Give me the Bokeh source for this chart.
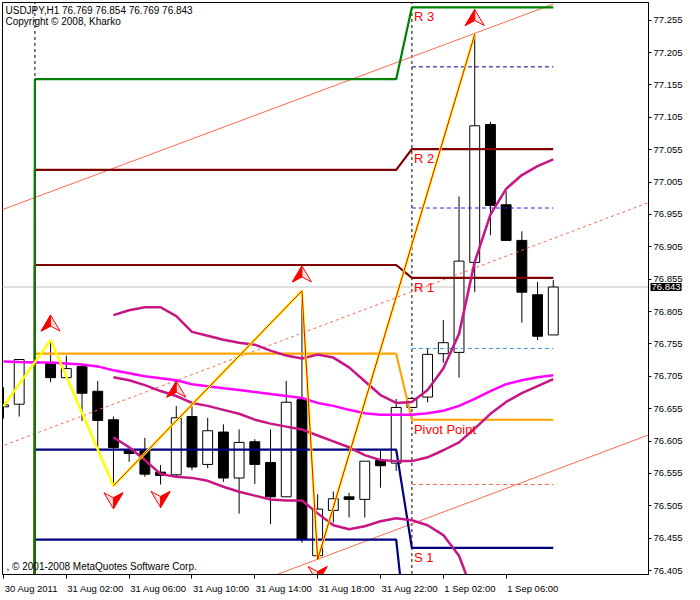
import numpy as np
from bokeh.plotting import figure
from bokeh.models import (Range1d, FixedTicker, PrintfTickFormatter, Label)
from bokeh.core.properties import value
from bokeh.embed import file_html
from bokeh.resources import INLINE

# ------------------------------------------------------------------ data
title_text = "USDJPY,H1  76.769 76.854 76.769 76.843"
subtitle_text = "Copyright \u00a9 2008, Kharko"
footer_text = ", \u00a9 2001-2008 MetaQuotes Software Corp."

bar_index = list(range(36))
opens = [76.658, 76.662, 76.727, 76.725, 76.703, 76.720, 76.682, 76.638, 76.591,
         76.590, 76.557, 76.553, 76.643, 76.569, 76.619, 76.548, 76.604, 76.572,
         76.519, 76.669, 76.428, 76.498, 76.519, 76.515, 76.575, 76.571, 76.657,
         76.673, 76.740, 76.742, 76.881, 77.094, 76.970, 76.915, 76.831, 76.769]
highs = [76.688, 76.731, 76.735, 76.761, 76.737, 76.725, 76.698, 76.643, 76.595,
         76.610, 76.568, 76.659, 76.659, 76.641, 76.631, 76.623, 76.608, 76.623,
         76.698, 76.837, 76.523, 76.527, 76.525, 76.574, 76.591, 76.670, 76.672,
         76.749, 76.792, 76.983, 77.233, 77.098, 76.991, 76.929, 76.851, 76.854]
lows = [76.640, 76.643, 76.720, 76.696, 76.703, 76.636, 76.595, 76.536, 76.573,
        76.550, 76.538, 76.550, 76.560, 76.563, 76.542, 76.493, 76.539, 76.477,
        76.519, 76.448, 76.422, 76.479, 76.487, 76.487, 76.533, 76.559, 76.656,
        76.665, 76.726, 76.703, 76.835, 76.923, 76.915, 76.788, 76.761, 76.769]
closes = [76.661, 76.731, 76.726, 76.703, 76.717, 76.679, 76.637, 76.595, 76.586,
          76.554, 76.552, 76.641, 76.565, 76.621, 76.548, 76.603, 76.569, 76.519,
          76.665, 76.454, 76.500, 76.516, 76.515, 76.574, 76.567, 76.657, 76.671,
          76.739, 76.757, 76.883, 77.092, 76.969, 76.915, 76.835, 76.767, 76.843]
bid_price = 76.843

tick_bars = [0, 4, 8, 12, 16, 20, 24, 28, 32]
tick_labels = ["30 Aug 2011", "31 Aug 02:00", "31 Aug 06:00", "31 Aug 10:00",
               "31 Aug 14:00", "31 Aug 18:00", "31 Aug 22:00", "1 Sep 02:00",
               "1 Sep 06:00"]
price_ticks = [76.405, 76.455, 76.505, 76.555, 76.605, 76.655, 76.705, 76.755,
               76.805, 76.855, 76.905, 76.955, 77.005, 77.055, 77.105, 77.155,
               77.205, 77.255]

day_separator_bars = [2, 26]
day1_bars = list(range(2, 26))
day2_bars = list(range(26, 36))

# pivot levels (previous-day value shown as 0 = empty, as in MT4)
pivot_names = ["S 2", "S 1", "Pivot Point", "R 1", "R 2", "R 3"]
pivot_day1 = [76.453, 76.592, 76.740, 76.877, 77.024, 77.164]
pivot_day2 = [76.230, 76.440, 76.638, 76.857, 77.056, 77.275]
pivot_empty = 0.0

# long moving average (magenta), bars 0..35
ma_slow = [76.728, 76.727, 76.7265, 76.7265, 76.725, 76.7234, 76.7204, 76.7143,
           76.7097, 76.7051, 76.7021, 76.699, 76.6929, 76.6899, 76.6868, 76.6838,
           76.6808, 76.6777, 76.6747, 76.6716, 76.664, 76.6594, 76.6533, 76.648,
           76.6457, 76.6457, 76.6457, 76.648, 76.6518, 76.6594, 76.6701, 76.6823,
           76.6929, 76.699, 76.7036, 76.7066]

# band indicator (violet), starting at bar 7
band_bars = list(range(7, 36))
band_upper = [76.7996, 76.8072, 76.8117, 76.8117, 76.798, 76.7737, 76.7676, 76.7615,
              76.7569, 76.7539, 76.7447, 76.7371, 76.7325, 76.7386, 76.7340, 76.7188,
              76.6975, 76.6762, 76.664, 76.6655, 76.6840, 76.7170, 76.7706, 76.8818,
              76.9549, 76.9945, 77.0159, 77.0296, 77.0402]
band_mid = [76.7036, 76.699, 76.6914, 76.6823, 76.6747, 76.664, 76.6594, 76.6533,
            76.6472, 76.6381, 76.632, 76.6274, 76.6229, 76.6137, 76.6046, 76.5955,
            76.5833, 76.5757, 76.5741, 76.5741, 76.5800, 76.5909, 76.6031, 76.6244,
            76.6472, 76.6655, 76.6792, 76.6899, 76.7006]
lower_bars = list(range(7, 31))
band_lower = [76.6107, 76.5955, 76.5757, 76.5543, 76.5498, 76.5482, 76.5437, 76.5345,
              76.5269, 76.5208, 76.5147, 76.5132, 76.5132, 76.4934, 76.4751, 76.469,
              76.4736, 76.4812, 76.4858, 76.4827, 76.4751, 76.4599, 76.4279, 76.3639]

# zigzag
zigzag_bars = [0, 3, 7, 19, 20, 30]
zigzag_prices = [76.659, 76.761, 76.536, 76.837, 76.422, 77.233]
zigzag2_bars = [7, 19, 20, 30]
zigzag2_prices = [76.536, 76.837, 76.422, 77.233]

# fractal arrows
fractal_up_bars = [3, 11, 19, 30]
fractal_down_bars = [7, 10, 20]

# short dashed levels for the current day
level_prices = [77.183, 76.965, 76.748, 76.538]

# trend channel (two points per line: bar, price)
chan_upper_bars, chan_upper_prices = [-1, 35], [76.954, 77.280]
chan_mid_bars, chan_mid_prices = [-1, 42], [76.589, 76.982]
chan_lower_bars, chan_lower_prices = [15, 42], [76.377, 76.623]

# ------------------------------------------------------------------ figure
X0, X1 = -0.0625, 41.0625
Y0, Y1 = 76.399, 77.2824
FW, FH = 646, 572
FONT = "Liberation Sans"
AXIS_FS = 9.5

p = figure(frame_width=FW, frame_height=FH,
           x_range=Range1d(X0, X1), y_range=Range1d(Y0, Y1),
           output_backend="svg", toolbar_location=None, y_axis_location="right",
           min_border_left=2, min_border_top=2, min_border_right=2,
           min_border_bottom=16,
           background_fill_color="white", border_fill_color="white")
p.grid.visible = False
p.outline_line_color = "black"
p.outline_line_width = 1

px_x = (X1 - X0) / FW
px_y = (Y1 - Y0) / FH

ya = p.yaxis[0]
ya.ticker = FixedTicker(ticks=price_ticks)
ya.formatter = PrintfTickFormatter(format="%.3f")
ya.major_tick_in = 0
ya.major_tick_out = 3
ya.minor_tick_in = 0
ya.minor_tick_out = 0
ya.major_label_standoff = 2
ya.major_label_text_font = FONT
ya.major_label_text_font_size = "%gpx" % AXIS_FS
ya.major_label_text_color = "black"
ya.axis_line_color = "black"
ya.major_tick_line_color = "black"

# x axis: tick marks (as minor ticks) at the bar, labels left-aligned from the tick
arial_w = {"0": .556, "1": .556, "2": .556, "3": .556, "4": .556, "5": .556,
           "6": .556, "7": .556, "8": .556, "9": .556, " ": .278, ":": .278,
           "A": .667, "u": .556, "g": .556, "S": .667, "e": .556, "p": .556}
label_pos = []
for b, t in zip(tick_bars, tick_labels):
    w = sum(arial_w.get(ch, .556) for ch in t) * AXIS_FS
    label_pos.append(round(b + (w / 2 + 1) * px_x, 4))
xa = p.xaxis[0]
xa.ticker = FixedTicker(ticks=label_pos, minor_ticks=tick_bars)
xa.major_label_overrides = {pos: t for pos, t in zip(label_pos, tick_labels)}
xa.major_tick_in = 0
xa.major_tick_out = 0
xa.major_tick_line_color = None
xa.minor_tick_in = 0
xa.minor_tick_out = 4
xa.minor_tick_line_color = "black"
xa.major_label_standoff = 4
xa.major_label_text_font = FONT
xa.major_label_text_font_size = "%gpx" % AXIS_FS
xa.major_label_text_color = "black"
xa.axis_line_color = "black"

# day separators
for b in day_separator_bars:
    p.segment(x0=b, y0=Y0 - 1, x1=b, y1=Y1 + 1, line_color="black",
              line_dash="3 3", line_width=1)

# bid line
p.line(x=[X0 - 1, X1 + 1], y=[bid_price, bid_price], line_color="#C0C0C0", line_width=1)

# candles
o = np.array(opens); c = np.array(closes); h = np.array(highs); l = np.array(lows)
bx = np.array(bar_index)
p.segment(x0=bx, y0=l, x1=bx, y1=h, line_color="black", line_width=1)
up = c >= o
dn = ~up
p.vbar(x=bx[up], width=0.63, top=c[up], bottom=o[up], fill_color="white",
       line_color="black", line_width=1)
p.vbar(x=bx[dn], width=0.63, top=o[dn], bottom=c[dn], fill_color="black",
       line_color="black", line_width=1)

# trend channel
chan_col = "#FA6A50"
p.line(chan_upper_bars, chan_upper_prices, line_color=chan_col, line_width=1)
p.line(chan_mid_bars, chan_mid_prices, line_color=chan_col, line_width=1, line_dash="3 3")
p.line(chan_lower_bars, chan_lower_prices, line_color=chan_col, line_width=1)

# pivot lines
pivot_colors = ["#000080", "#000080", "#FFA500", "#800000", "#800000", "#008000"]
for name, d1, d2, col in zip(pivot_names, pivot_day1, pivot_day2, pivot_colors):
    xs = [day1_bars[0] - 1] + day1_bars + day2_bars
    ys = [pivot_empty] + [d1] * len(day1_bars) + [d2] * len(day2_bars)
    p.line(xs, ys, line_color=col, line_width=2.2)

# short dashed levels
level_colors = ["#000080", "#2323D8", "#3A96E8", "#FA6A50"]
for lv, col in zip(level_prices, level_colors):
    p.line([day2_bars[0], day2_bars[-1]], [lv, lv], line_color=col,
           line_width=1, line_dash="4 3")

# bands and moving average
violet = "#C71585"
p.line(band_bars, band_upper, line_color=violet, line_width=2.5)
p.line(band_bars, band_mid, line_color=violet, line_width=2.5)
p.line(lower_bars, band_lower, line_color=violet, line_width=2.5)
p.line(bar_index, ma_slow, line_color="#FF00FF", line_width=2.5)

# zigzag
p.line(zigzag_bars, zigzag_prices, line_color="#FFFF00", line_width=2.5)
p.line(zigzag2_bars, zigzag2_prices, line_color="#FF0000", line_width=1)

# fractal arrows (arrowheads, half filled)
hw = 9.5 * px_x
out_xs, out_ys, fill_xs, fill_ys = [], [], [], []
for b in fractal_up_bars:
    base = highs[b] + 9 * px_y
    tip = base + 16 * px_y
    notch = base + 5 * px_y
    out_xs.append([b, b + hw, b, b - hw]); out_ys.append([tip, base, notch, base])
    fill_xs.append([b, b, b - hw]); fill_ys.append([tip, notch, base])
for b in fractal_down_bars:
    base = lows[b] - 7 * px_y
    tip = base - 16 * px_y
    notch = base - 5 * px_y
    out_xs.append([b, b + hw, b, b - hw]); out_ys.append([tip, base, notch, base])
    fill_xs.append([b, b, b + hw]); fill_ys.append([tip, notch, base])
p.patches(out_xs, out_ys, fill_color="#FF0000", fill_alpha=0.12, line_color="#FF0000",
          line_width=1)
p.patches(fill_xs, fill_ys, fill_color="#FF0000", line_color="#FF0000", line_width=1)

# pivot labels (current day, visible ones)
vis = [i for i, v in enumerate(pivot_day2) if Y0 < v < Y1]
p.text(x=[day2_bars[0]] * len(vis), y=[pivot_day2[i] for i in vis],
       text=[pivot_names[i] for i in vis], text_color="#FF0000",
       text_font=value(FONT), text_font_size=value("13px"),
       text_baseline="top", text_align="left", x_offset=2, y_offset=2)

# texts
p.add_layout(Label(x=X0, y=Y1, x_offset=3, y_offset=-2, text=title_text,
                   text_baseline="top", text_font=FONT, text_font_size="10px",
                   text_color="black"))
p.add_layout(Label(x=X0, y=Y1, x_offset=3, y_offset=-13, text=subtitle_text,
                   text_baseline="top", text_font=FONT, text_font_size="10px",
                   text_color="black"))
p.add_layout(Label(x=X0, y=Y0, x_offset=4, y_offset=3, text=footer_text,
                   text_baseline="bottom", text_font=FONT, text_font_size="10px",
                   text_color="black"))

# current price box on the price scale (placed in the side panel, so not clipped)
p.add_layout(Label(x=X1, y=bid_price, x_offset=2, text="%.3f" % bid_price,
                   text_baseline="middle", text_align="left", text_font=FONT,
                   text_font_size="%gpx" % AXIS_FS, text_color="white",
                   background_fill_color="black", padding=1), "right")

open("out.html", "w").write(file_html(p, INLINE))
